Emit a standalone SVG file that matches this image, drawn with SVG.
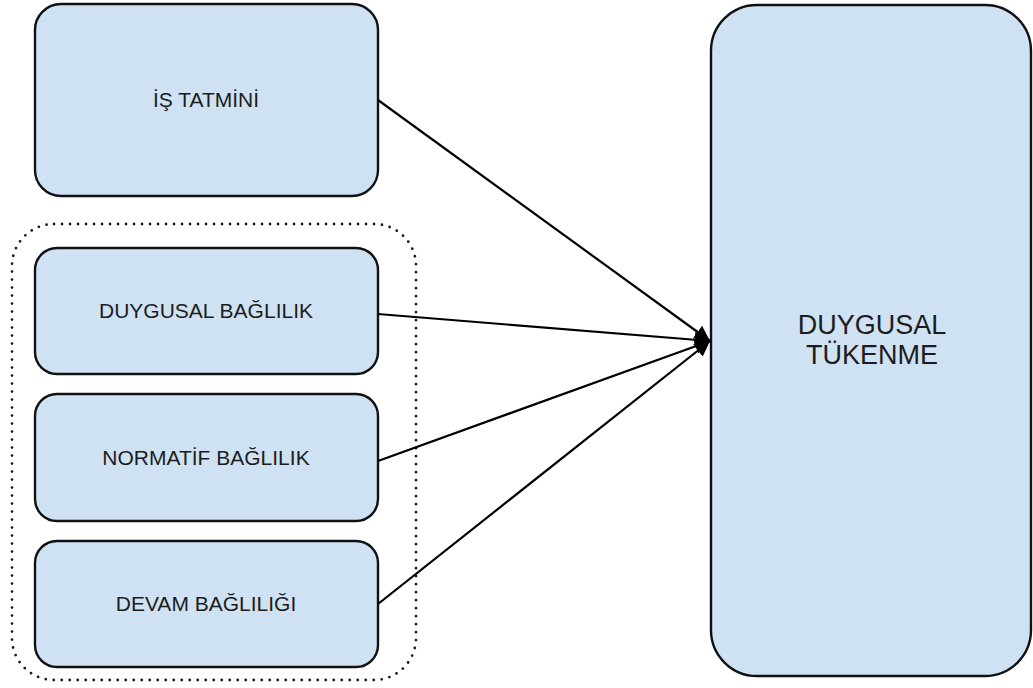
<svg xmlns="http://www.w3.org/2000/svg" width="1033" height="688" viewBox="0 0 1033 688">
<defs>
<style>
.box{fill:#cfe2f3;stroke:#111;stroke-width:2.4}
.lbl{font-family:"Liberation Sans",Arial,sans-serif;font-size:21px;fill:#1c1c1c;text-anchor:middle}
.big{font-size:27px}
.edge{stroke:#000;stroke-width:2.2;fill:none;marker-end:url(#ah)}
.grp{fill:none;stroke:#1c1c1c;stroke-width:2.8;stroke-dasharray:0 8;stroke-linecap:round}
</style>
<marker id="ah" viewBox="0 0 10 10" refX="10" refY="5" markerWidth="7" markerHeight="7" markerUnits="strokeWidth" orient="auto">
<path d="M0,0 L10,5 L0,10 z" fill="#000"/>
</marker>
</defs>
<rect width="1033" height="688" fill="#fff"/>
<g id="group-baglilik">
<rect class="grp" x="12" y="224" width="404" height="456" rx="42" ry="42"/>
</g>
<g id="is-tatmini">
<rect class="box" x="35" y="4" width="343" height="192" rx="26" ry="26"/>
<text class="lbl" x="206" y="107">İŞ TATMİNİ</text>
</g>
<g id="duygusal-baglilik">
<rect class="box" x="35" y="248" width="343" height="126" rx="22" ry="22"/>
<text class="lbl" x="206" y="318">DUYGUSAL BAĞLILIK</text>
</g>
<g id="normatif-baglilik">
<rect class="box" x="35" y="394" width="343" height="127" rx="22" ry="22"/>
<text class="lbl" x="206" y="465">NORMATİF BAĞLILIK</text>
</g>
<g id="devam-bagliligi">
<rect class="box" x="35" y="541" width="343" height="126" rx="22" ry="22"/>
<text class="lbl" x="206" y="611">DEVAM BAĞLILIĞI</text>
</g>
<g id="duygusal-tukenme">
<rect class="box" x="711" y="5" width="320" height="671" rx="46" ry="46"/>
<text class="lbl big" x="872" y="334">DUYGUSAL</text>
<text class="lbl big" x="872" y="364">TÜKENME</text>
</g>
<g id="connectors">
<line class="edge" x1="378" y1="100" x2="710" y2="341"/>
<line class="edge" x1="378" y1="314" x2="710" y2="341"/>
<line class="edge" x1="378" y1="461" x2="710" y2="341"/>
<line class="edge" x1="378" y1="604" x2="710" y2="341"/>
</g>
</svg>
